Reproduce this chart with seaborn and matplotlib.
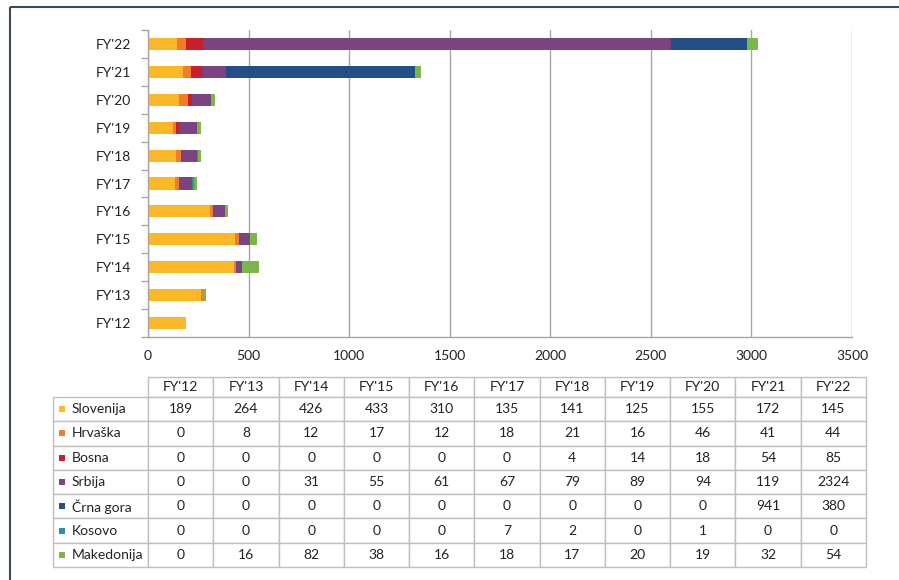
import numpy as np
import pandas as pd
import matplotlib
matplotlib.use("Agg")
import matplotlib.pyplot as plt
import seaborn as sns
from matplotlib.table import Table

# data
years = ["FY'12", "FY'13", "FY'14", "FY'15", "FY'16", "FY'17", "FY'18", "FY'19", "FY'20", "FY'21", "FY'22"]
countries = ["Slovenija", "Hrvaška", "Bosna", "Srbija", "Črna gora", "Kosovo", "Makedonija"]
slovenija = [189, 264, 426, 433, 310, 135, 141, 125, 155, 172, 145]
hrvaska = [0, 8, 12, 17, 12, 18, 21, 16, 46, 41, 44]
bosna = [0, 0, 0, 0, 0, 0, 4, 14, 18, 54, 85]
srbija = [0, 0, 31, 55, 61, 67, 79, 89, 94, 119, 2324]
crna_gora = [0, 0, 0, 0, 0, 0, 0, 0, 0, 941, 380]
kosovo = [0, 0, 0, 0, 0, 7, 2, 0, 1, 0, 0]
makedonija = [0, 16, 82, 38, 16, 18, 17, 20, 19, 32, 54]
colors = ["#FDB827", "#F07D27", "#C8202A", "#7B4382", "#234E86", "#2E8FAA", "#7AB648"]
x_ticks = [0, 500, 1000, 1500, 2000, 2500, 3000, 3500]

series = [slovenija, hrvaska, bosna, srbija, crna_gora, kosovo, makedonija]
df = pd.DataFrame(dict(zip(countries, series)), index=years)
df.index.name = "year"
cum = df.cumsum(axis=1).reset_index()

sns.set_style("white")
plt.rcParams["font.family"] = ["Lato", "DejaVu Sans"]
plt.rcParams["text.color"] = "#222222"
fs = 10

W, H = 899, 580
fig = plt.figure(figsize=(W / 100, H / 100), dpi=100)

# chart area in pixel coords
left, right, top, bottom = 148, 852, 30, 337
ax = fig.add_axes([left / W, 1 - bottom / H, (right - left) / W, (bottom - top) / H])

order = years[::-1]
# stacked bars: draw cumulative totals from the outermost segment inwards
for name, col in reversed(list(zip(countries, colors))):
    sns.barplot(data=cum, x=name, y="year", order=order, orient="h", color=col,
                saturation=1, width=0.43, linewidth=0, ax=ax)

ax.set_xlim(0, 3500)
ax.set_ylim(len(years) - 0.5, -0.5)
ax.set_xticks(x_ticks)
ax.set_xticklabels([str(t) for t in x_ticks])
ax.set_xlabel("")
ax.set_ylabel("")
ax.xaxis.grid(True, color="#A6A6A6", lw=1)
ax.set_axisbelow(True)
ax.set_yticks(np.arange(-0.5, len(years), 1), minor=True)
ax.tick_params(axis="y", which="major", length=0, pad=12, labelsize=fs, labelcolor="#222222")
ax.tick_params(axis="y", which="minor", length=5, color="#A6A6A6", width=1, left=True)
ax.tick_params(axis="x", length=0, pad=9, labelsize=fs, labelcolor="#222222")
for s in ["top", "right"]:
    ax.spines[s].set_visible(False)
for s in ["left", "bottom"]:
    ax.spines[s].set_color("#A6A6A6")
    ax.spines[s].set_linewidth(1)

# overlay in pixel coords for the table and the frame
ax_t = fig.add_axes([0, 0, 1, 1])
ax_t.set_xlim(0, W)
ax_t.set_ylim(H, 0)
ax_t.axis("off")

t_left, t_right, t_top, t_bottom = 53, 866, 377, 567
lab_w = 95
col_w = (t_right - t_left - lab_w) / len(years)
head_h = 20
row_h = (t_bottom - t_top - head_h) / len(countries)

tbl = Table(ax_t, bbox=[t_left / W, 1 - t_bottom / H, (t_right - t_left) / W, (t_bottom - t_top) / H])
for j, y in enumerate(years):
    tbl.add_cell(0, j + 1, width=col_w, height=head_h, text=y, loc="center")
for i, name in enumerate(countries):
    tbl.add_cell(i + 1, 0, width=lab_w, height=row_h, text="", loc="left")
    for j in range(len(years)):
        tbl.add_cell(i + 1, j + 1, width=col_w, height=row_h, text=str(series[i][j]), loc="center")
tbl.auto_set_font_size(False)
tbl.set_fontsize(fs)
for cell in tbl.get_celld().values():
    cell.set_edgecolor("#BFBFBF")
    cell.set_linewidth(1)
ax_t.add_table(tbl)

for i, (name, col) in enumerate(zip(countries, colors)):
    yc = t_top + head_h + row_h * (i + 0.5)
    ax_t.scatter([62], [yc], marker="s", s=24, color=col, linewidths=0)
    ax_t.text(72, yc, name, va="center", ha="left", fontsize=fs)

# outer frame (top and left edges)
ax_t.plot([10, W], [7, 7], color="#3D4A57", lw=1.5, solid_capstyle="butt")
ax_t.plot([10, 10], [7, H], color="#3D4A57", lw=1.5, solid_capstyle="butt")

fig.savefig("out.png", dpi=100)
